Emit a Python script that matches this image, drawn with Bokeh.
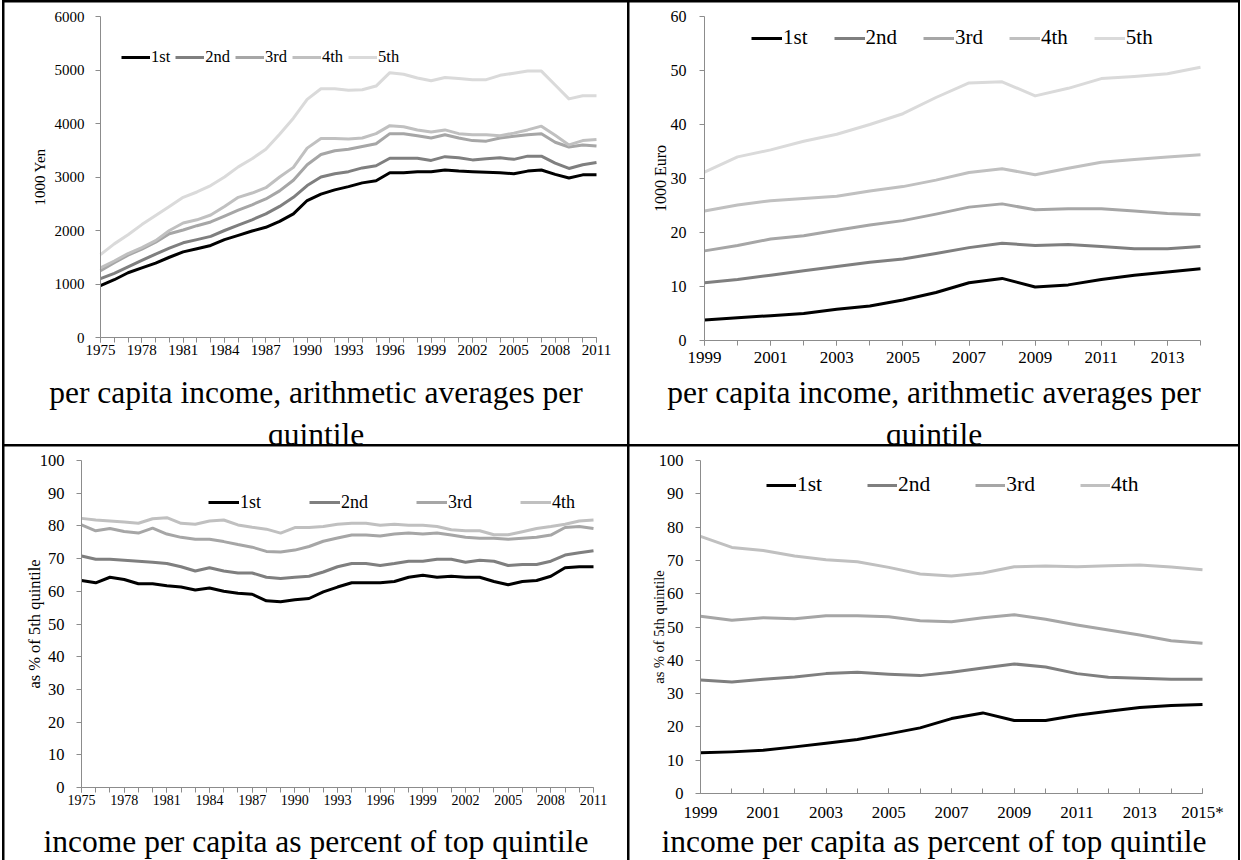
import math
from bokeh.plotting import figure
from bokeh.models import Range1d, FixedTicker, Legend, LegendItem, Label
from bokeh.layouts import row, column
from bokeh.embed import file_html
from bokeh.resources import INLINE

FONT = "Liberation Serif"
COLORS = ["#000000", "#7f7f7f", "#a6a6a6", "#c0c0c0", "#dadada"]
NAMES = ["1st", "2nd", "3rd", "4th", "5th"]
AXIS_COLOR = "#8c8c8c"

# ---- Japan, per capita income by quintile (1000 Yen) ----
years_jp = list(range(1975, 2012))
yen_q1 = [970, 1080, 1210, 1300, 1390, 1500, 1600, 1660, 1720, 1830,
          1910, 1990, 2060, 2170, 2310, 2560, 2680, 2760, 2820, 2890,
          2930, 3080, 3080, 3100, 3100, 3130, 3110, 3100, 3090, 3080,
          3060, 3110, 3130, 3050, 2980, 3040, 3040]
yen_q2 = [1100, 1200, 1320, 1440, 1560, 1670, 1770, 1830, 1890, 2000,
          2100, 2200, 2310, 2450, 2620, 2840, 3000, 3060, 3100, 3170,
          3210, 3350, 3350, 3350, 3310, 3380, 3360, 3320, 3340, 3360,
          3330, 3390, 3390, 3260, 3160, 3230, 3270]
yen_q3 = [1250, 1400, 1540, 1650, 1780, 1940, 2010, 2090, 2160, 2270,
          2380, 2480, 2590, 2740, 2940, 3230, 3420, 3490, 3520, 3570,
          3620, 3810, 3810, 3770, 3730, 3790, 3730, 3680, 3670, 3730,
          3760, 3790, 3810, 3650, 3560, 3600, 3580]
yen_q4 = [1300, 1430, 1570, 1680, 1810, 2000, 2140, 2200, 2290, 2450,
          2620, 2700, 2800, 3000, 3180, 3540, 3720, 3720, 3710, 3730,
          3810, 3960, 3940, 3880, 3840, 3880, 3810, 3790, 3790, 3770,
          3820, 3880, 3950, 3780, 3600, 3680, 3700]
yen_q5 = [1550, 1750, 1920, 2110, 2280, 2450, 2620, 2720, 2840, 3000,
          3190, 3340, 3520, 3800, 4100, 4450, 4650, 4650, 4620, 4630,
          4700, 4950, 4920, 4850, 4800, 4860, 4840, 4820, 4820, 4900,
          4940, 4980, 4980, 4720, 4460, 4520, 4520]

# ---- per capita income by quintile (1000 Euro) ----
years_eu = list(range(1999, 2015))
eur_q1 = [3.8, 4.2, 4.6, 5.0, 5.8, 6.4, 7.5, 8.9, 10.7, 11.5, 9.9, 10.3, 11.3, 12.1, 12.7, 13.3]
eur_q2 = [10.7, 11.3, 12.1, 12.9, 13.7, 14.5, 15.1, 16.1, 17.2, 18.0, 17.6, 17.8, 17.4, 17.0, 17.0, 17.4]
eur_q3 = [16.6, 17.6, 18.8, 19.4, 20.4, 21.4, 22.2, 23.4, 24.7, 25.3, 24.2, 24.4, 24.4, 24.0, 23.5, 23.3]
eur_q4 = [24.0, 25.1, 25.9, 26.3, 26.7, 27.7, 28.5, 29.7, 31.1, 31.8, 30.7, 31.9, 33.0, 33.5, 34.0, 34.4]
eur_q5 = [31.2, 34.0, 35.3, 36.9, 38.2, 40.0, 42.0, 45.0, 47.7, 47.9, 45.3, 46.7, 48.5, 48.9, 49.4, 50.6]

# ---- Japan, quintile income as % of the 5th quintile ----
jp_pct_q1 = [63.3, 62.6, 64.3, 63.6, 62.3, 62.3, 61.7, 61.3, 60.4, 61.0,
             60.0, 59.4, 59.1, 57.1, 56.8, 57.4, 57.8, 59.8, 61.3, 62.6,
             62.6, 62.6, 63.0, 64.3, 64.9, 64.3, 64.6, 64.3, 64.3, 63.0,
             62.0, 63.0, 63.3, 64.6, 67.2, 67.5, 67.5]
jp_pct_q2 = [70.8, 69.8, 69.8, 69.5, 69.2, 68.9, 68.5, 67.5, 66.2, 67.2,
             66.2, 65.6, 65.6, 64.3, 63.9, 64.3, 64.6, 65.9, 67.5, 68.5,
             68.5, 67.9, 68.5, 69.2, 69.2, 69.8, 69.8, 68.9, 69.5, 69.2,
             67.9, 68.2, 68.2, 69.2, 71.1, 71.8, 72.4]
jp_pct_q3 = [80.3, 78.5, 79.2, 78.3, 77.8, 79.3, 77.5, 76.5, 75.9, 75.9,
             75.2, 74.3, 73.5, 72.2, 72.0, 72.6, 73.7, 75.3, 76.3, 77.2,
             77.2, 76.9, 77.5, 77.8, 77.5, 77.8, 77.2, 76.5, 76.2, 76.2,
             75.9, 76.2, 76.5, 77.2, 79.5, 79.8, 79.2]
jp_pct_q4 = [82.3, 81.8, 81.5, 81.2, 80.8, 82.2, 82.5, 80.8, 80.5, 81.5,
             81.8, 80.3, 79.6, 79.0, 77.8, 79.5, 79.5, 79.8, 80.5, 80.8,
             80.8, 80.2, 80.5, 80.2, 80.2, 79.8, 78.8, 78.5, 78.5, 77.3,
             77.3, 78.2, 79.2, 79.8, 80.5, 81.5, 81.8]

# ---- quintile income as % of the 5th quintile (Euro series) ----
years_pct = list(range(1999, 2016))
eu_pct_q1 = [12.2, 12.5, 13.0, 14.0, 15.1, 16.2, 17.9, 19.7, 22.5, 24.2, 21.9, 21.9, 23.5, 24.7, 25.8, 26.4, 26.7]
eu_pct_q2 = [34.1, 33.5, 34.3, 35.0, 36.0, 36.4, 35.8, 35.4, 36.4, 37.7, 38.9, 38.0, 36.0, 34.9, 34.6, 34.3, 34.3]
eu_pct_q3 = [53.2, 52.0, 52.8, 52.5, 53.4, 53.4, 53.1, 51.9, 51.6, 52.8, 53.7, 52.3, 50.6, 49.1, 47.6, 45.9, 45.1]
eu_pct_q4 = [77.2, 73.9, 73.0, 71.3, 70.2, 69.6, 67.9, 65.9, 65.3, 66.2, 68.1, 68.3, 68.1, 68.4, 68.6, 68.0, 67.2]

CAPTION_TOP = ["per capita income, arithmetic averages per", "quintile"]
CAPTION_BOTTOM = ["income per capita as percent of top quintile"]


def panel(cell_w, cell_h, pad, xs, series, x_major, y_max, y_step,
          ytitle, ytitle_x, ytitle_size, tick_size_x, tick_size_y, x_standoff, y_standoff,
          legend_loc, legend_font, legend_glyph, legend_spacing,
          caption, caption_y, caption_step=40,
          ticks_inside=False, overrides=None, line_width=3):
    """One table cell: the canvas is the whole cell, and the axes are pinned
    at x = first year and y = 0 so the caption and titles share the canvas."""
    left, right, top, bottom = pad
    plot_w = cell_w - left - right
    plot_h = cell_h - top - bottom
    x0, x1 = xs[0], xs[-1]
    kx = (x1 - x0) / plot_w
    ky = y_max / plot_h
    p = figure(width=cell_w, height=cell_h, output_backend="svg", toolbar_location=None,
               x_range=Range1d(x0 - left * kx, x1 + right * kx),
               y_range=Range1d(-bottom * ky, y_max + top * ky),
               min_border_left=0, min_border_right=0, min_border_top=0, min_border_bottom=0)
    p.outline_line_color = None
    p.grid.visible = False
    p.background_fill_color = "white"
    p.border_fill_color = "white"

    renderers = []
    for i, ys in enumerate(series):
        r = p.line(xs, ys, line_color=COLORS[i], line_width=line_width, line_join="round")
        renderers.append(r)

    # x axis: a tick every year, labels every few years
    xa = p.xaxis[0]
    xa.fixed_location = 0
    xa.bounds = (x0, x1)
    xa.ticker = FixedTicker(ticks=x_major, minor_ticks=list(xs))
    xa.axis_line_color = AXIS_COLOR
    xa.major_tick_line_color = AXIS_COLOR
    xa.minor_tick_line_color = AXIS_COLOR
    if ticks_inside:
        xa.major_tick_in, xa.major_tick_out = 5, 0
        xa.minor_tick_in, xa.minor_tick_out = 5, 0
    else:
        xa.major_tick_in, xa.major_tick_out = 0, 5
        xa.minor_tick_in, xa.minor_tick_out = 0, 5
    xa.major_label_text_font = FONT
    xa.major_label_text_font_size = tick_size_x
    xa.major_label_text_color = "black"
    xa.major_label_standoff = x_standoff
    if overrides:
        xa.major_label_overrides = overrides

    ya = p.yaxis[0]
    ya.fixed_location = x0
    ya.bounds = (0, y_max)
    ya.ticker = FixedTicker(ticks=list(range(0, int(y_max) + 1, y_step)))
    ya.axis_line_color = AXIS_COLOR
    ya.major_tick_line_color = AXIS_COLOR
    ya.minor_tick_line_color = None
    ya.major_tick_in, ya.major_tick_out = 0, 5
    ya.major_label_text_font = FONT
    ya.major_label_text_font_size = tick_size_y
    ya.major_label_text_color = "black"
    ya.major_label_standoff = y_standoff

    # rotated y-axis title
    p.add_layout(Label(x=ytitle_x, y=bottom + plot_h / 2, x_units="screen", y_units="screen",
                       text=ytitle, angle=math.pi / 2, text_align="center",
                       text_baseline="middle", text_font=FONT,
                       text_font_size=ytitle_size, text_color="black"))

    # legend across the top of the plot area
    items = [LegendItem(label=NAMES[i], renderers=[renderers[i]]) for i in range(len(series))]
    legend = Legend(items=items, orientation="horizontal", location=legend_loc,
                    padding=0, margin=0, spacing=legend_spacing,
                    glyph_width=legend_glyph, glyph_height=24, label_height=24,
                    label_width=10, label_standoff=1,
                    label_text_font=FONT, label_text_font_size=legend_font,
                    label_text_color="black",
                    border_line_color=None, background_fill_alpha=0)
    p.add_layout(legend)

    # caption under the chart, centred in the cell
    for k, line in enumerate(caption):
        p.add_layout(Label(x=cell_w / 2, y=caption_y - caption_step * k,
                           x_units="screen", y_units="screen", text=line,
                           text_align="center", text_baseline="alphabetic",
                           text_font=FONT, text_font_size="31.5px", text_color="black"))
    return p


p1 = panel(623, 442, (96, 31, 14, 107), years_jp,
           [yen_q1, yen_q2, yen_q3, yen_q4, yen_q5],
           list(range(1975, 2012, 3)), 6000, 1000,
           "1000 Yen", 35.5, "15px", "15px", "15px", 2, 11,
           (117, 375), "16.5px", 29, 5, CAPTION_TOP, 52, caption_step=42)

p2 = panel(609, 442, (75, 38, 14, 104), years_eu,
           [eur_q1, eur_q2, eur_q3, eur_q4, eur_q5],
           list(range(1999, 2014, 2)), 60, 10,
           "1000 Euro", 30.6, "16px", "17px", "16px", 6, 13,
           (122, 394), "21px", 31, 26, CAPTION_TOP, 52, caption_step=42)

p3 = panel(623, 414, (77, 34, 14, 73), years_jp,
           [jp_pct_q1, jp_pct_q2, jp_pct_q3, jp_pct_q4],
           list(range(1975, 2012, 3)), 100, 10,
           "as % of 5th quintile", 29.6, "16.5px", "14px", "16.5px", 2, 12,
           (204, 346), "18px", 31, 48, CAPTION_BOTTOM, 19)

p4 = panel(609, 414, (71, 36, 14, 67), years_pct,
           [eu_pct_q1, eu_pct_q2, eu_pct_q3, eu_pct_q4],
           list(range(1999, 2016, 2)), 100, 10,
           "as % of 5th quintile", 29.4, "14.5px", "17px", "16.5px", 9, 12,
           (137, 363), "21.5px", 30, 45, CAPTION_BOTTOM, 19,
           ticks_inside=True, overrides={2015: "2015*"})

grid = column(
    row(p1, p2, spacing=2),
    row(p3, p4, spacing=2),
    spacing=2,
    styles={"background-color": "black", "padding": "2px 2px 0px 2px", "margin-left": "2px"},
)

open("out.html", "w").write(file_html(grid, INLINE))
